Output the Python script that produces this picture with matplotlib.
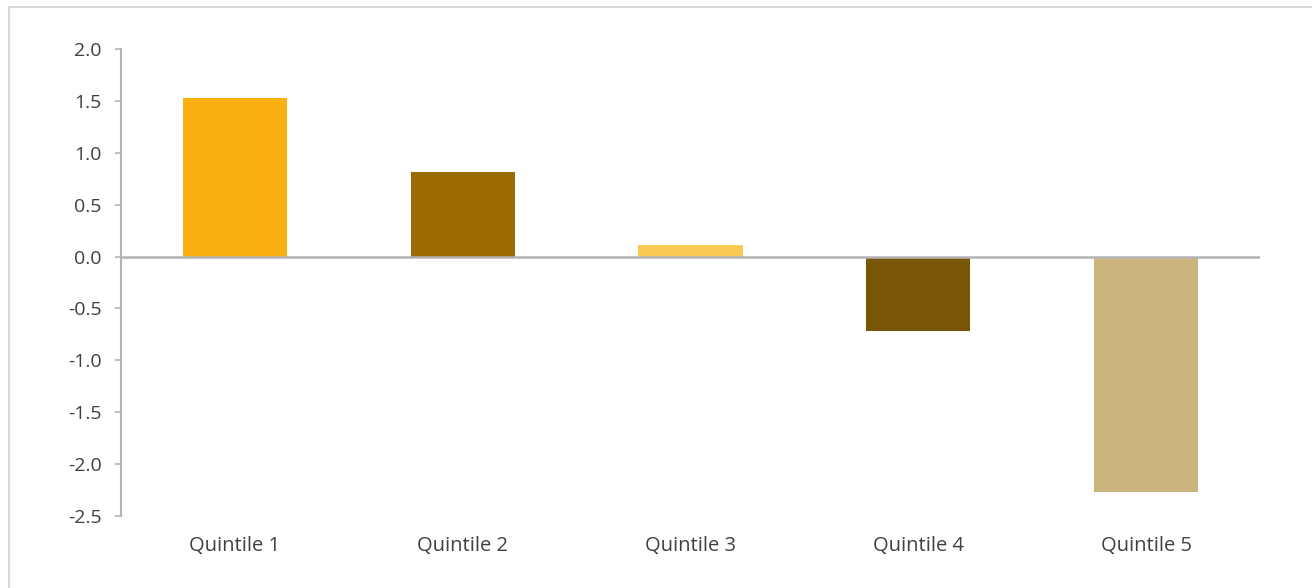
import matplotlib.pyplot as plt
from matplotlib.patches import Rectangle

categories = ['Quintile 1', 'Quintile 2', 'Quintile 3', 'Quintile 4', 'Quintile 5']
values = [1.53, 0.81, 0.11, -0.72, -2.27]
colors = ['#FBB011', '#9B6A00', '#F9CB55', '#795507', '#CCB47D']
yticks = [-2.5, -2.0, -1.5, -1.0, -0.5, 0.0, 0.5, 1.0, 1.5, 2.0]

plt.rcParams['font.family'] = ['Open Sans', 'DejaVu Sans']

fig = plt.figure(figsize=(13.12, 5.88), dpi=100)
ax = fig.add_axes([121 / 1312, 1 - 516 / 588, 1139 / 1312, 467 / 588])

x = range(len(categories))
ax.bar(x, values, width=0.457, color=colors, zorder=2)
ax.axhline(0, color='#b3b3b3', linewidth=1.8, zorder=3)

ax.set_xlim(-0.5, len(categories) - 0.5)
ax.set_ylim(-2.5, 2.0)
ax.set_yticks(yticks)
ax.set_yticklabels(['%.1f' % t for t in yticks])
ax.set_xticks(list(x))
ax.set_xticklabels(categories)

for s in ['top', 'right', 'bottom']:
    ax.spines[s].set_visible(False)
ax.spines['left'].set_color('#b3b3b3')
ax.spines['left'].set_linewidth(1.5)

ax.tick_params(axis='y', length=4.5, width=1.2, color='#b3b3b3', pad=9.5,
               labelsize=14, labelcolor='#404040')
ax.tick_params(axis='x', length=0, pad=14.5, labelsize=14.5, labelcolor='#404040')

# light frame around the chart area
fig.patches.append(Rectangle((8.5 / 1312, -0.05), 1.2, 1 - 7.5 / 588 + 0.05,
                             transform=fig.transFigure, fill=False,
                             edgecolor='#d9d9d9', linewidth=1.5))

fig.savefig('out.png', dpi=100)
